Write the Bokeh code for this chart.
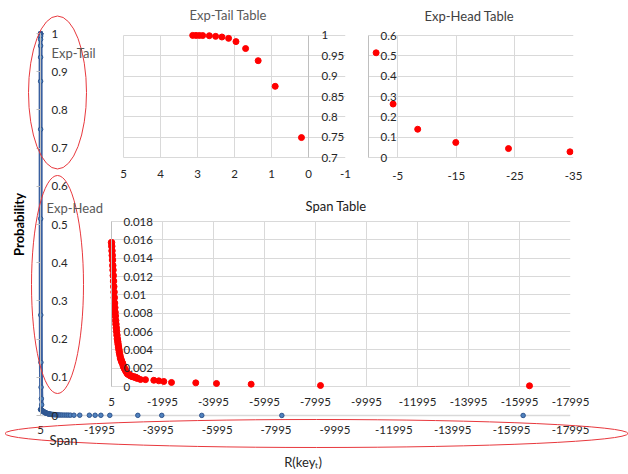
from bokeh.plotting import figure
from bokeh.models import Range1d, LinearAxis, FixedTicker, CustomJSTickFormatter, Grid
from bokeh.core.properties import value
from bokeh.embed import file_html
from bokeh.resources import INLINE

FONT = "Lato"
W, H = 628, 474

# ---- data -------------------------------------------------------------
# Exp-Tail table: R(key_t) and probability
tail_r = [3.13, 3.04, 2.95, 2.86, 2.68, 2.51, 2.34, 2.16, 1.96, 1.70, 1.36, 0.90, 0.19]
tail_p = [1.0, 0.9999, 0.9998, 0.9996, 0.9992, 0.9976, 0.9960, 0.9927, 0.9847,
          0.9677, 0.9379, 0.8750, 0.7492]

# Exp-Head table
head_r = [-1.3, -4.2, -8.4, -14.9, -23.9, -34.4]
head_p = [0.515, 0.263, 0.139, 0.074, 0.044, 0.028]

# Span table: densely sampled start of the span ...
span_curve_r = [5, -5, -15, -25, -35, -45, -55, -65, -75, -85, -95, -105, -115, -125,
                -135, -146, -158, -170, -183, -196, -210, -225, -240, -255, -270, -288,
                -306, -326, -348, -372, -398, -430, -462, -498, -536, -576, -620, -670,
                -730, -800, -870, -936, -1010]
span_curve_p = [0.0157, 0.0153, 0.0148, 0.0143, 0.0138, 0.0132, 0.0127, 0.0121, 0.0115,
                0.0109, 0.0103, 0.0097, 0.0091, 0.0086, 0.0081, 0.0077, 0.0072, 0.0068,
                0.0064, 0.0060, 0.0056, 0.0052, 0.0049, 0.0046, 0.0043, 0.0040, 0.0037,
                0.0034, 0.0031, 0.0029, 0.0027, 0.0025, 0.0022, 0.0020, 0.0018, 0.0016,
                0.0014, 0.0013, 0.0012, 0.0011, 0.00105, 0.0010, 0.0009]
# ... and its sparse far end
span_far_r = [-1132, -1328, -1654, -1850, -2046, -2348, -3300, -4113, -5472, -8191, -16387]
span_far_p = [0.00076, 0.00075, 0.00068, 0.00062, 0.00055, 0.00044, 0.00040, 0.00033,
              0.00025, 0.00011, 0.00008]

# tick values
span_x_ticks = [5, -1995, -3995, -5995, -7995, -9995, -11995, -13995, -15995, -17995]
main_y_ticks = [0, 0.1, 0.2, 0.3, 0.4, 0.5, 0.6, 0.7, 0.8, 0.9, 1]
tail_x_ticks = [5, 4, 3, 2, 1, 0, -1]
tail_y_ticks = [0.7, 0.75, 0.8, 0.85, 0.9, 0.95, 1]
head_x_ticks = [-5, -15, -25, -35]
head_y_ticks = [0, 0.1, 0.2, 0.3, 0.4, 0.5, 0.6]
span_y_ticks = [0, 0.002, 0.004, 0.006, 0.008, 0.01, 0.012, 0.014, 0.016, 0.018]

# whole distribution for the overview chart
main_r = tail_r + head_r + span_curve_r + span_far_r
main_p = tail_p + head_p + span_curve_p + span_far_p
n_joined = len(tail_r) + len(head_r) + len(span_curve_r)

fmt = CustomJSTickFormatter(code="return String(tick);")
AXIS_GREY = "#bfbfbf"
GRID_GREY = "#d9d9d9"
TEXT = "#262626"
PAD_L, PAD_V = 5, 8   # breathing room so edge markers and labels are not clipped
HAS_CROSS = "cross_bounds" in Grid.properties()


def layer(box, xr, yr, transparent=True):
    """Full-canvas figure; the axis box `box` (l, t, r, b) holds ranges xr, yr."""
    l, t, r, b = box
    ux = (xr[1] - xr[0]) / (r - l)
    uy = (yr[1] - yr[0]) / (b - t)
    p = figure(width=W, height=H,
               x_range=Range1d(xr[0] - PAD_L * ux, xr[1]),
               y_range=Range1d(yr[0] - PAD_V * uy, yr[1] + PAD_V * uy),
               min_border_left=l - PAD_L, min_border_top=t - PAD_V,
               min_border_right=W - r, min_border_bottom=H - b - PAD_V,
               x_axis_location="below", y_axis_location="right",
               toolbar_location=None, tools="", output_backend="svg",
               styles={"position": "absolute", "left": "0px", "top": "0px"})
    if transparent:
        p.background_fill_color = None
        p.border_fill_color = None
    p.outline_line_color = None
    return p


def style_axis(ax, ticks, standoff, bounds):
    ax.ticker = FixedTicker(ticks=ticks)
    ax.formatter = fmt
    ax.bounds = bounds
    ax.major_label_text_font = FONT
    ax.major_label_text_font_size = "11.5px"
    ax.major_label_text_color = TEXT
    ax.major_label_standoff = standoff
    ax.axis_line_color = AXIS_GREY
    ax.major_tick_in = 0
    ax.major_tick_out = 0
    ax.minor_tick_line_color = None


def setup(p, xr, yr, xticks, yticks, x_standoff, y_standoff, y_at, grid=True):
    style_axis(p.xaxis[0], xticks, x_standoff, xr)
    p.xaxis[0].axis_line_color = None
    style_axis(p.yaxis[0], yticks, y_standoff, yr)
    p.yaxis[0].fixed_location = y_at
    if grid:
        p.xgrid.grid_line_color = GRID_GREY
        p.ygrid.grid_line_color = GRID_GREY
        if HAS_CROSS:
            p.xgrid.cross_bounds = yr
            p.ygrid.cross_bounds = xr
    else:
        p.grid.visible = False


def style_title(p, text, offset, standoff, color):
    p.title.text = text
    p.title.align = "left"
    p.title.offset = offset
    p.title.text_font = FONT
    p.title.text_font_size = "13px"
    p.title.text_font_style = "normal"
    p.title.text_color = color
    p.title.standoff = standoff


# ---- overview chart ----------------------------------------------------
main_x, main_y = (5, -17995), (0, 1)
main = layer((40, 33, 570, 415), main_x, main_y, transparent=False)
setup(main, main_x, main_y, span_x_ticks, main_y_ticks, 2, 11, 5, grid=False)
main.yaxis[0].major_tick_in = 4
main.yaxis[0].major_tick_line_color = AXIS_GREY
xa = main.xaxis[0]
xa.axis_label = "R(key\u209c)"
xa.axis_label_text_font = FONT
xa.axis_label_text_font_size = "13px"
xa.axis_label_text_font_style = "normal"
xa.axis_label_text_color = TEXT
xa.axis_label_standoff = 17
# horizontal axis line drawn at probability 0
base = Grid(dimension=1, ticker=FixedTicker(ticks=[0]), grid_line_color=GRID_GREY,
            grid_line_width=1.5)
if HAS_CROSS:
    base.cross_bounds = main_x
main.add_layout(base)

prob_axis = LinearAxis(ticker=FixedTicker(ticks=[]), axis_label="Probability",
                       axis_line_color=None, major_tick_line_color=None,
                       minor_tick_line_color=None, axis_label_standoff=9,
                       axis_label_text_font=FONT, axis_label_text_font_size="13px",
                       axis_label_text_font_style="bold", axis_label_text_color="#000000")
main.add_layout(prob_axis, "left")

main.line(main_r[:n_joined], main_p[:n_joined], line_color="#3a60a0", line_width=4)
main.scatter(main_r, main_p, size=4.5, fill_color="#4f81bd", line_color="#2f558f",
             line_width=1)

# ---- Span table inset --------------------------------------------------
span_x, span_y = (5, -17995), (0, 0.018)
span = layer((111, 221, 570, 386), span_x, span_y)
setup(span, span_x, span_y, span_x_ticks, span_y_ticks, 3, 12, 5)
style_title(span, "Span Table", 199, 0, "#1a1a1a")
span.scatter(span_curve_r, span_curve_p, size=6.5, color="#ff0000")
span.scatter(span_far_r, span_far_p, size=6, color="#ff0000")

# ---- Exp-Tail table inset ---------------------------------------------
tail_x, tail_y = (5, -1), (0.7, 1)
tail = layer((123, 33, 345, 157), tail_x, tail_y)
setup(tail, tail_x, tail_y, tail_x_ticks, tail_y_ticks, 4, 13, 0)
style_title(tail, "Exp-Tail Table", 71, 9, "#595959")
tail.scatter(tail_r, tail_p, size=6, color="#ff0000")

# ---- Exp-Head table inset ---------------------------------------------
head_x, head_y = (0, -35), (0, 0.6)
head = layer((368, 35, 573, 157), head_x, head_y)
setup(head, head_x, head_y, head_x_ticks, head_y_ticks, 6, 12, 0)
style_title(head, "Exp-Head Table", 61, 8, "#404040")
head.scatter(head_r, head_p, size=6, color="#ff0000")

# ---- highlight ellipses and their captions (pixel space) ---------------
note = figure(width=W, height=H, x_range=Range1d(0, W), y_range=Range1d(H, 0),
              min_border=0, x_axis_location=None, y_axis_location=None,
              toolbar_location=None, tools="", output_backend="svg",
              background_fill_color=None, border_fill_color=None,
              outline_line_color=None,
              styles={"position": "absolute", "left": "0px", "top": "0px"})
note.grid.visible = False
ring_x = [57, 57, 316]
ring_y = [92, 284, 433]
ring_w = [58, 52, 623]
ring_h = [153, 218, 28]
note.ellipse(ring_x, ring_y, width=ring_w, height=ring_h, fill_color=None,
             line_color="#e8383d", line_width=1)
note.text([51, 46, 49], [52, 207, 439], text=["Exp-Tail", "Exp-Head", "Span"],
          text_color=["#595959", "#595959", "#262626"], text_font=value(FONT),
          text_font_size="13px", text_baseline="middle", text_align="left")

html = file_html([main, span, tail, head, note], INLINE)
open("out.html", "w").write(html)
